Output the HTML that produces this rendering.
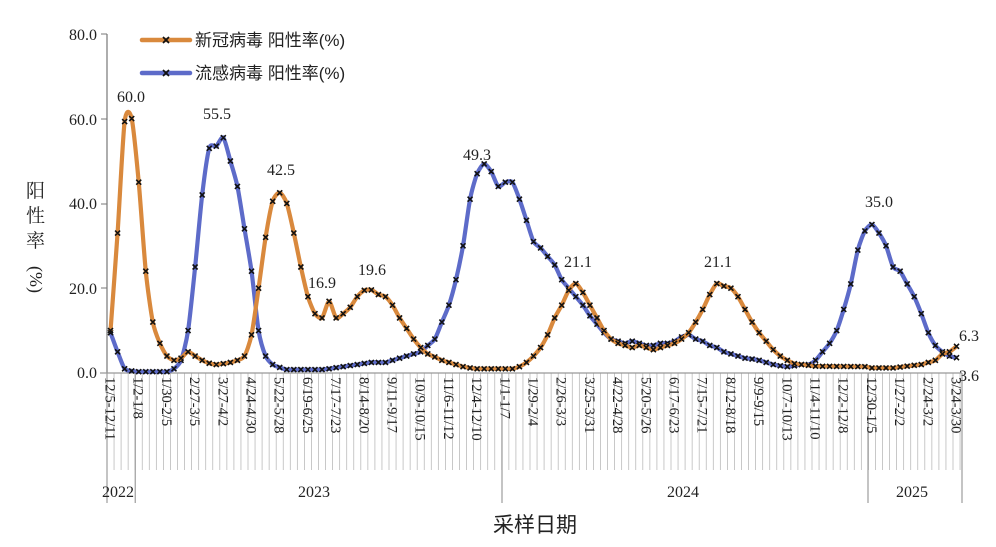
<!DOCTYPE html>
<html><head><meta charset="utf-8"><style>
html,body{margin:0;padding:0;background:#fff;}
svg{display:block;}
text{font-family:"Liberation Serif","Noto Serif CJK SC",serif;fill:#222;}
.cjk{font-family:"Liberation Sans","Noto Sans CJK SC",sans-serif;}
</style></head><body>
<svg id="c" width="996" height="547" viewBox="0 0 996 547" xmlns="http://www.w3.org/2000/svg">
<g id="grid"></g>
<line x1="107" y1="34" x2="107" y2="373" stroke="#777" stroke-width="1.2"/>
<line x1="100" y1="373" x2="962" y2="373" stroke="#999" stroke-width="1.2"/>
<g font-size="16" text-anchor="end">
<text x="97" y="40">80.0</text><text x="97" y="125">60.0</text><text x="97" y="209">40.0</text><text x="97" y="294">20.0</text><text x="97" y="378">0.0</text>
</g>
<g stroke="#777"><line x1="101" y1="34" x2="107" y2="34"/><line x1="101" y1="119" x2="107" y2="119"/><line x1="101" y1="204" x2="107" y2="204"/><line x1="101" y1="288" x2="107" y2="288"/></g>
<g class="cjk" font-size="19" fill="#333"><text x="26" y="197">阳</text><text x="26" y="222">性</text><text x="26" y="247">率</text>
<text transform="translate(30,266) rotate(90)" font-size="18">(%)</text></g>
<text class="cjk" x="535" y="532" font-size="21" text-anchor="middle" fill="#444">采样日期</text>
<g font-size="16"><text x="102" y="497">2022</text><text x="298" y="497">2023</text><text x="667" y="497">2024</text><text x="896" y="497">2025</text></g>
<g id="lbl" font-size="14.5"></g>
<g id="series"></g>
<g font-size="16" text-anchor="middle">
<text x="131" y="102">60.0</text><text x="217" y="119">55.5</text><text x="281" y="175">42.5</text><text x="322" y="288">16.9</text><text x="372" y="275">19.6</text><text x="477" y="160">49.3</text><text x="578" y="267">21.1</text><text x="718" y="267">21.1</text><text x="879" y="207">35.0</text><text x="969" y="341">6.3</text><text x="969" y="381">3.6</text>
</g>
<g>
<line x1="142" y1="40" x2="190" y2="40" stroke="#D9893D" stroke-width="4.5" stroke-linecap="round"/>
<line x1="142" y1="73" x2="190" y2="73" stroke="#5D6BC9" stroke-width="4.5" stroke-linecap="round"/>
<g stroke="#111" stroke-width="1.8"><path d="M163,37l6,6M169,37l-6,6M163,70l6,6M169,70l-6,6"/></g>
<text class="cjk" x="195" y="46" font-size="17" fill="#333">新冠病毒 阳性率(%)</text>
<text class="cjk" x="195" y="79" font-size="17" fill="#333">流感病毒 阳性率(%)</text>
</g>
</svg>
<script>
var X0=107,W=7.05,N=121,Y0=373,K=4.24;
function px(i){return X0+W*(i+0.5);} function py(v){return Y0-v*K;}
var ns="http://www.w3.org/2000/svg";
function el(p,t,a,txt){var e=document.createElementNS(ns,t);for(var k in a)e.setAttribute(k,a[k]);if(txt)e.textContent=txt;p.appendChild(e);return e;}
var g=document.getElementById('grid');
for(var i=0;i<=N;i++){var x=X0+W*i;el(g,'line',{x1:x,y1:373,x2:x,y2:470,stroke:'#bbb','stroke-width':0.8});}
[107,135.2,502,868,962].forEach(function(x){el(g,'line',{x1:x,y1:373,x2:x,y2:503,stroke:'#888','stroke-width':1});});
var months=["12/5-12/11","1/2-1/8","1/30-2/5","2/27-3/5","3/27-4/2","4/24-4/30","5/22-5/28","6/19-6/25","7/17-7/23","8/14-8/20","9/11-9/17","10/9-10/15","11/6-11/12","12/4-12/10","1/1-1/7","1/29-2/4","2/26-3/3","3/25-3/31","4/22-4/28","5/20-5/26","6/17-6/23","7/15-7/21","8/12-8/18","9/9-9/15","10/7-10/13","11/4-11/10","12/2-12/8","12/30-1/5","1/27-2/2","2/24-3/2","3/24-3/30"];
var L=document.getElementById('lbl');
months.forEach(function(m,j){var x=px(j*4)-5;el(L,'text',{transform:'translate('+x+',377) rotate(90)'},m);});
var cov={0:10,1:33,2:59.3,3:60,4:45,5:24,6:12,7:7,8:4,9:3,10:3.5,11:5,12:4,13:3,14:2.3,15:2,16:2.2,17:2.5,18:3,19:4,20:9,21:20,22:32,23:40.5,24:42.5,25:40,26:33,27:25,28:18,29:14,30:13,31:16.9,32:13,33:14,34:15.5,35:18,36:19.5,37:19.6,38:18.5,39:18,40:16,41:13,42:10.5,43:8,44:6,45:4.5,46:3.8,47:3,48:2.5,49:2,50:1.5,51:1.2,52:1,57:1,58:1.5,59:2.5,60:4,61:6,62:9,63:13,64:16,65:19.5,66:21.1,67:19,68:16,69:13,70:10,71:8,72:7,73:6.5,74:6,75:6.5,76:6,77:5.5,78:6,79:6.5,80:7,81:8,82:9.5,83:12,84:15,85:18.5,86:21.1,87:20.5,88:20,89:18,90:15,91:12,92:9.5,93:7.5,94:5.5,95:4,96:3,97:2.2,98:2,99:1.8,100:1.6,107:1.5,108:1.2,111:1.2,113:1.6,115:2,116:2.5,117:3,118:4.5,119:5,120:6.3};
var flu={0:9.5,1:5,2:1,3:0.5,4:0.3,8:0.3,9:1,10:3,11:10,12:25,13:42,14:53,15:53.5,16:55.5,17:50,18:44,19:34,20:24,21:10,22:4,23:2,24:1.3,25:0.8,30:0.8,31:1,33:1.5,35:2,37:2.5,39:2.5,40:3,42:4,44:5,45:6.5,46:8,47:12,48:16,49:22,50:30,51:41,52:47,53:49.3,54:47.5,55:44,56:45,57:45,58:41,59:36,60:31,61:29.5,62:27.5,63:25.5,64:22,65:20,66:18,67:16,68:13.5,69:11.5,70:9.5,71:8,72:7.5,73:7,74:7.5,75:7,76:6.5,77:6.5,78:7,79:7,80:7.5,81:8.5,82:9,83:8,84:7.5,85:6.5,86:6,87:5,88:4.5,89:4,90:3.5,91:3.3,92:3,93:2.5,94:2,95:1.7,96:1.5,97:1.7,98:2,99:2,100:3,101:5,102:7,103:10,104:15,105:21,106:29,107:33.5,108:35,109:33,110:30,111:25,112:24,113:21,114:18,115:14,116:9.5,117:6.5,118:5,119:4,120:3.6};
function fill(o){var a=[];for(var i=0;i<N;i++){if(o[i]!==undefined){a[i]=o[i];}else{var n=i;while(o[n]===undefined)n++;var p=i-1;while(o[p]===undefined)p--;a[i]=o[p]+(o[n]-o[p])*(i-p)/(n-p);}}return a;}
var S=document.getElementById('series');
function draw(o,col){var a=fill(o),pts=a.map(function(v,i){return [px(i),py(v)];});
var d="M"+pts[0][0]+","+pts[0][1],t=8;
for(var i=0;i<pts.length-1;i++){var p0=pts[Math.max(0,i-1)],p1=pts[i],p2=pts[i+1],p3=pts[Math.min(pts.length-1,i+2)];
d+="C"+(p1[0]+(p2[0]-p0[0])/t)+","+(p1[1]+(p2[1]-p0[1])/t)+" "+(p2[0]-(p3[0]-p1[0])/t)+","+(p2[1]-(p3[1]-p1[1])/t)+" "+p2[0]+","+p2[1];}
el(S,'path',{d:d,fill:'none',stroke:col,'stroke-width':4.2,'stroke-linejoin':'round'});
var m="";pts.forEach(function(p){m+="M"+(p[0]-2.5)+","+(p[1]-2.5)+"l5,5M"+(p[0]+2.5)+","+(p[1]-2.5)+"l-5,5";});
el(S,'path',{d:m,stroke:'#111','stroke-width':1.6,fill:'none'});}
draw(flu,'#5D6BC9');draw(cov,'#D9893D');
</script>
</body></html>
